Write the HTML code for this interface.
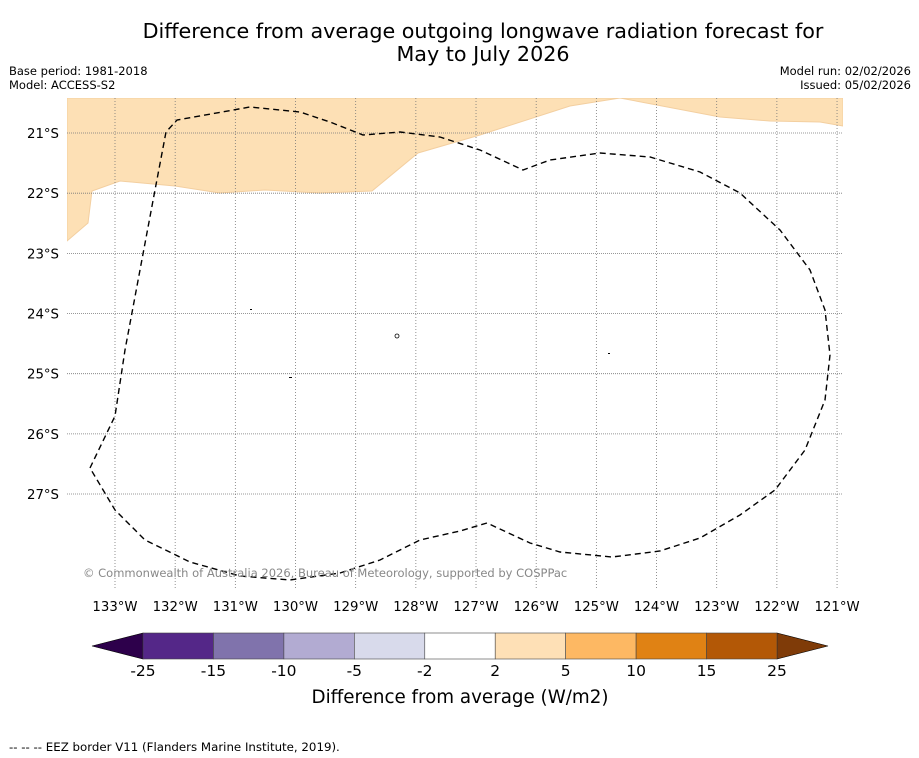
<!DOCTYPE html>
<html><head><meta charset="utf-8"><style>
body{margin:0;background:#fff;font-family:"DejaVu Sans","Liberation Sans",sans-serif;}
svg{display:block}
</style></head><body>
<svg width="919" height="758" viewBox="0 0 919 758">
<text x="483" y="38" font-size="20.7" text-anchor="middle">Difference from average outgoing longwave radiation forecast for</text>
<text x="483" y="61" font-size="20.7" text-anchor="middle">May to July 2026</text>
<text x="9" y="75" font-size="11.5">Base period: 1981-2018</text>
<text x="9" y="89" font-size="11.5">Model: ACCESS-S2</text>
<text x="911" y="75" font-size="11.5" text-anchor="end">Model run: 02/02/2026</text>
<text x="911" y="89" font-size="11.5" text-anchor="end">Issued: 05/02/2026</text>
<g id="map">
<clipPath id="clip"><rect x="67" y="98" width="776" height="492"/></clipPath>
<g clip-path="url(#clip)">
<polygon fill="#fde0b5" stroke="#f3cfa0" stroke-width="1" points="67,98 843,98 843,126 820,122 770,121 720,117 620,98 570,106 480,135 418,153 372,191 320,193 265,190 220,193 175,186 120,181 92,191 88,223 67,241"/>
<g id="grid"></g>
<path fill="none" stroke="#000" stroke-width="1.4" stroke-dasharray="6,4" d="M90,468 L115,416 L125,350 L140,270 L155,190 L166,132 L177,120 L250,107 L300,112 L330,122 L363,135 L400,132 L440,137 L480,150 L523,170 L550,160 L600,153 L650,157 L700,172 L740,193 L780,230 L810,270 L825,310 L830,355 L825,400 L805,450 L775,490 L740,515 L700,538 L660,551 L612,557 L560,552 L530,543 L487,523 L460,531 L420,540 L380,560 L340,573 L290,580 L240,576 L190,562 L145,540 L115,510 Z"/>
<rect x="250" y="309" width="2" height="1" fill="#000"/>
<rect x="289" y="377" width="3" height="1" fill="#000"/>
<rect x="608" y="353" width="2" height="1" fill="#000"/>
<circle cx="397" cy="336" r="2" fill="none" stroke="#000" stroke-width="0.8"/>
</g>
<text x="83" y="577" font-size="11.5" fill="#888">© Commonwealth of Australia 2026, Bureau of Meteorology, supported by COSPPac</text>
<g id="ticks"></g>
</g>
<g id="cbar"></g>
<text x="460" y="703" font-size="18.3" text-anchor="middle">Difference from average (W/m2)</text>
<text x="9" y="751" font-size="11.8">-- -- -- EEZ border V11 (Flanders Marine Institute, 2019).</text>
</svg>
<script>
const lonTicks=[133,132,131,130,129,128,127,126,125,124,123,122,121];
const latTicks=[21,22,23,24,25,26,27];
const cbarLevels=["-25","-15","-10","-5","-2","2","5","10","15","25"];
const cbarColors=["#542788","#8073ac","#b2abd2","#d8daeb","#ffffff","#fee0b6","#fdb863","#e08214","#b35806"];
const cbarLow="#2d004b", cbarHigh="#7f3b08";
const NS="http://www.w3.org/2000/svg";
const xLon=l=>115+(133-l)*60.17;
const yLat=l=>133+(l-21)*60.17;
function mk(t,a,p){const e=document.createElementNS(NS,t);for(const k in a)e.setAttribute(k,a[k]);p.appendChild(e);return e;}
const grid=document.getElementById('grid'), ticks=document.getElementById('ticks');
lonTicks.forEach(l=>{const x=xLon(l);
 const g=mk('line',{x1:x,x2:x,y1:98,y2:590,stroke:'#777','stroke-width':0.8,'stroke-dasharray':'1,2'},grid);
 
 
 const t=mk('text',{x:x,y:611,'font-size':13.3,'text-anchor':'middle'},ticks);t.textContent=l+'°W';
 
 
});
latTicks.forEach(l=>{const y=yLat(l);
 const g=mk('line',{x1:67,x2:843,y1:y,y2:y,stroke:'#777','stroke-width':0.8,'stroke-dasharray':'1,1'},grid);
 
 
 const t=mk('text',{x:59,y:y+5,'font-size':13.3,'text-anchor':'end'},ticks);t.textContent=l+'°S';
 
 
});
const cb=document.getElementById('cbar');
const x0=143,x1=777,y0=633,h=26,n=cbarColors.length,w=(x1-x0)/n;
const lo=mk('polygon',{points:`${x0},${y0} 92,${y0+h/2} ${x0},${y0+h}`,fill:cbarLow,stroke:'#000','stroke-width':0.6},cb);


const hi=mk('polygon',{points:`${x1},${y0} 828,${y0+h/2} ${x1},${y0+h}`,fill:cbarHigh,stroke:'#000','stroke-width':0.6},cb);


cbarColors.forEach((c,i)=>{const r=mk('rect',{x:x0+i*w,y:y0,width:w,height:h,fill:c,stroke:'#444','stroke-width':0.6},cb);
 
 });
cbarLevels.forEach((v,i)=>{const t=mk('text',{x:x0+i*w,y:676,'font-size':15.5,'text-anchor':'middle'},cb);t.textContent=v;
 
 });
</script>
</body></html>
